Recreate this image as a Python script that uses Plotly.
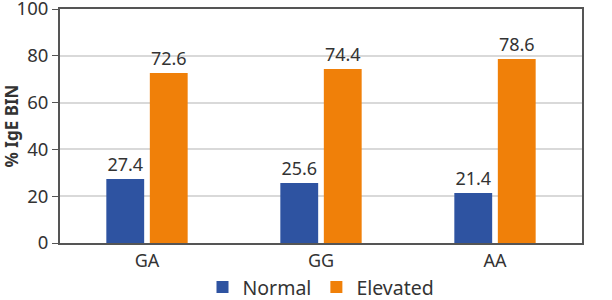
import plotly.graph_objects as go

categories = ["GA", "GG", "AA"]
normal = [27.4, 25.6, 21.4]
elevated = [72.6, 74.4, 78.6]
y_ticks = [0, 20, 40, 60, 80, 100]

font_family = "Noto Sans, Open Sans, sans-serif"
text_color = "#333333"

fig = go.Figure()
fig.add_trace(go.Bar(
    x=categories, y=normal, name="Normal",
    marker=dict(color="#2E53A1", line=dict(width=0)),
    text=[f"{v:.1f}" for v in normal], textposition="outside",
    textfont=dict(size=18, color=text_color, family=font_family),
    cliponaxis=False,
))
fig.add_trace(go.Bar(
    x=categories, y=elevated, name="Elevated",
    marker=dict(color="#F08009", line=dict(width=0)),
    text=[f"{v:.1f}" for v in elevated], textposition="outside",
    textfont=dict(size=18, color=text_color, family=font_family),
    cliponaxis=False,
))

fig.update_layout(
    width=612, height=300,
    margin=dict(l=60, r=30, t=9, b=57, autoexpand=False),
    paper_bgcolor="white", plot_bgcolor="white",
    barmode="group", bargap=0.5, bargroupgap=0.13,
    font=dict(family=font_family, size=18, color=text_color),
    showlegend=True,
    legend=dict(orientation="h", x=0.5, xanchor="center",
                yref="container", y=0.042, yanchor="middle",
                font=dict(size=19.5, color=text_color),
                traceorder="normal", itemwidth=30),
    xaxis=dict(showline=True, linecolor="#555555", linewidth=2, mirror=True,
               ticks="", tickfont=dict(size=18, color=text_color), automargin=False),
    yaxis=dict(range=[0, 100], tickvals=y_ticks, showgrid=True,
               gridcolor="#d9d9d9", gridwidth=1.5, automargin=False,
               ticklabeloverflow="allow",
               showline=True, linecolor="#555555", linewidth=2, mirror=True,
               ticks="outside", ticklen=6, tickcolor="#555555",
               tickfont=dict(size=18.5, color=text_color),
               title=dict(text="<b>% IgE BIN</b>", font=dict(size=17, color=text_color),
                          standoff=8),
               zeroline=False),
)

fig.write_html("out.html", config={"displayModeBar": False},
               post_script="document.body.style.margin='0';")
